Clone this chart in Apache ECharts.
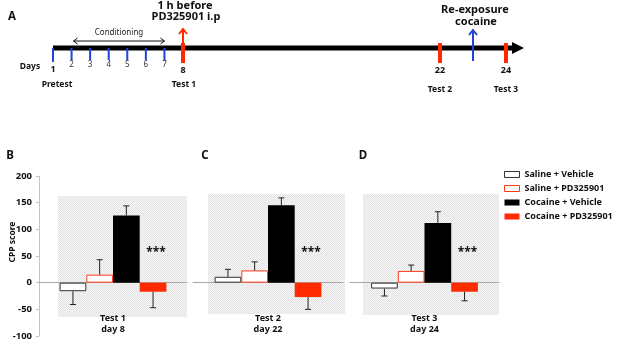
<!DOCTYPE html>
<html>
<head>
<meta charset="utf-8">
<script src="https://cdn.jsdelivr.net/npm/echarts@6/dist/echarts.min.js"></script>
<style>
  html, body { margin: 0; padding: 0; background: #fff; }
  #main { width: 617px; height: 353px; }
</style>
</head>
<body>
<div id="main"></div>
<script>
// ---- data ----
const groups = ['Saline + Vehicle', 'Saline + PD325901', 'Cocaine + Vehicle', 'Cocaine + PD325901']
const tests = ['Test 1\nday 8', 'Test 2\nday 22', 'Test 3\nday 24']
// CPP score means, one row per test (B, C, D)
const means = [
  [-16, 15, 126, -17],
  [11, 23, 145, -27],
  [-11, 22, 112, -17],
]
const sems = [
  [25, 28, 18, 30],
  [14, 16, 14, 23],
  [14, 11, 21, 17],
]
const stars = ['***', '***', '***']
const yMin = -100
const yMax = 200
const yStep = 50

// timeline (panel A)
const condDays = [1, 2, 3, 4, 5, 6, 7]
const condSpan = [2, 7]
const testDays = [8, 22, 24]
const testNames = ['Test 1', 'Test 2', 'Test 3']
const arrowDays = [8, 23]
const arrowTexts = ['1 h before\nPD325901 i.p', 'Re-exposure\ncocaine']

// ---- styles ----
const FONT = 'Noto Sans'
const RED = '#ff2a00'
const BLUE = '#2242d8'
const BAR_W = 26.7
const LINE_Y = 48
const STAR_AT = 57

const barStyles = [
  { color: '#fff', borderColor: '#333', borderWidth: 1 },
  { color: '#fff', borderColor: '#ff3a1a', borderWidth: 1 },
  { color: '#000' },
  { color: RED },
]

const panelGrids = [
  { left: 39, top: 176, width: 148, height: 160 },
  { left: 193, top: 176, width: 150, height: 160 },
  { left: 350, top: 176, width: 149, height: 160 },
]
const timeGrids = [
  { left: 53, top: 43, width: 130, height: 10 }, // days 1-8
  { left: 440, top: 43, width: 66, height: 10 }, // days 22-24
]
const timeRanges = [[1, 8], [22, 24]]
const timeGrid = (d) => (d <= 8 ? 3 : 4)

function txt(text, x, y, size, bold, extra) {
  return {
    type: 'text', x, y,
    style: Object.assign({
      text, fontSize: size, fontWeight: bold ? 'bold' : 'normal', fontFamily: FONT,
      fill: '#111', align: 'center', verticalAlign: 'middle',
    }, extra || {}),
  }
}

// hatched background pattern
const pat = document.createElement('canvas')
pat.width = 2
pat.height = 2
const pctx = pat.getContext('2d')
pctx.fillStyle = '#f6f6f6'
pctx.fillRect(0, 0, 2, 2)
pctx.fillStyle = '#e3e3e3'
pctx.fillRect(0, 0, 1, 1)
pctx.fillRect(1, 1, 1, 1)

// ---- render helpers ----
function renderErr(params, api) {
  const m = api.value(1)
  const e = api.value(2)
  const gi = api.value(3)
  const base = api.coord([0, m])
  const tip = api.coord([0, m + (m < 0 ? -e : e)])
  const x = base[0] + (gi - 1.5) * BAR_W
  const children = [
    { type: 'line', shape: { x1: x, y1: base[1], x2: x, y2: tip[1] }, style: { stroke: '#222', lineWidth: 1 } },
    { type: 'line', shape: { x1: x - 3, y1: tip[1], x2: x + 3, y2: tip[1] }, style: { stroke: '#222', lineWidth: 1 } },
  ]
  if (gi === 3) {
    const s = api.coord([0, STAR_AT])
    children.push(txt(stars[params.seriesIndex % 3] || '***', x + 3, s[1], 12, true))
  }
  return { type: 'group', children }
}

function renderCondTick(params, api) {
  const d = api.value(0)
  const x = api.coord([d, 0])[0]
  const first = params.dataIndex === 0
  const children = [
    { type: 'line', shape: { x1: x, y1: LINE_Y, x2: x, y2: first ? 62 : 60 }, style: { stroke: BLUE, lineWidth: 2 } },
    txt(String(d), x, first ? 69 : 65, first ? 9 : 8, first, { fill: first ? '#111' : '#333' }),
  ]
  if (first) children.push(txt('Pretest', x + 4, 85, 8.5, true))
  return { type: 'group', children }
}

function renderCondSpan(params, api) {
  const x1 = api.coord([api.value(0), 0])[0] + 2
  const x2 = api.coord([api.value(2), 0])[0]
  const y = 41
  const st = { stroke: '#111', lineWidth: 1, fill: null }
  return {
    type: 'group',
    children: [
      { type: 'line', shape: { x1, y1: y, x2, y2: y }, style: st },
      { type: 'polyline', shape: { points: [[x1 + 4, y - 3], [x1, y], [x1 + 4, y + 3]] }, style: st },
      { type: 'polyline', shape: { points: [[x2 - 4, y - 3], [x2, y], [x2 - 4, y + 3]] }, style: st },
      txt('Conditioning', (x1 + x2) / 2, 33, 8, false, { fill: '#222' }),
    ],
  }
}

function renderTest(params, api) {
  const d = api.value(0)
  const i = api.value(2)
  const x = api.coord([d, 0])[0]
  return {
    type: 'group',
    children: [
      { type: 'rect', shape: { x: x - 2, y: 43, width: 4, height: 20 }, style: { fill: RED } },
      txt(String(d), x, 70, 9, true),
      txt(testNames[i], i === 0 ? x + 1 : x, i === 0 ? 85 : 90, 8.5, true),
    ],
  }
}

function renderArrow(params, api) {
  const d = api.value(0)
  const i = api.value(2)
  const x = api.coord([d, 0])[0]
  const color = i === 0 ? RED : BLUE
  const top = i === 0 ? 29 : 30
  const st = { stroke: color, lineWidth: 2, fill: null }
  const lines = arrowTexts[i].split('\n')
  const ty = i === 0 ? [6, 17] : [10, 22]
  return {
    type: 'group',
    children: [
      { type: 'line', shape: { x1: x, y1: 61, x2: x, y2: top }, style: st },
      { type: 'polyline', shape: { points: [[x - 4, top + 5], [x, top], [x + 4, top + 5]] }, style: st },
      txt(lines[0], x + 2, ty[0], 11, true),
      txt(lines[1], x + 3, ty[1], 11, true),
    ],
  }
}

// ---- build option ----
const grid = panelGrids.concat(timeGrids).map((g) => Object.assign({ outerBoundsMode: 'none', containLabel: false }, g))
const xAxis = []
const yAxis = []
panelGrids.forEach((g, p) => {
  xAxis.push({
    type: 'category', gridIndex: p, data: [tests[p]],
    axisLine: { onZero: true, lineStyle: { color: '#a8a8a8', width: 1 } },
    axisTick: { show: false },
    // labels sit just under the shaded box
    axisLabel: { margin: -23, fontSize: 9, fontWeight: 'bold', lineHeight: 11, color: '#111', fontFamily: FONT },
  })
  yAxis.push({
    type: 'value', gridIndex: p, min: yMin, max: yMax, interval: yStep,
    show: p === 0,
    splitLine: { show: false },
    axisLine: { show: true, lineStyle: { color: '#c4c4c4' } },
    axisTick: { show: true, length: 3, lineStyle: { color: '#c4c4c4' } },
    axisLabel: { fontSize: 9.5, fontWeight: 'bold', color: '#111', margin: 7, fontFamily: FONT },
  })
})
timeRanges.forEach((r, k) => {
  xAxis.push({ type: 'value', gridIndex: 3 + k, min: r[0], max: r[1], show: false })
  yAxis.push({ type: 'value', gridIndex: 3 + k, min: 0, max: 1, show: false })
})

const series = []
panelGrids.forEach((g, p) => {
  groups.forEach((name, gi) => {
    series.push({
      type: 'bar', name, xAxisIndex: p, yAxisIndex: p,
      barWidth: BAR_W, barGap: '0%',
      itemStyle: barStyles[gi],
      data: [means[p][gi]],
      z: 3,
    })
  })
})
panelGrids.forEach((g, p) => {
  series.push({
    type: 'custom', xAxisIndex: p, yAxisIndex: p, z: 4,
    renderItem: renderErr,
    data: groups.map((name, gi) => [0, means[p][gi], sems[p][gi], gi]),
  })
})
series.push({
  type: 'custom', xAxisIndex: 3, yAxisIndex: 3, z: 3,
  renderItem: renderCondTick,
  data: condDays.map((d) => [d, 0]),
})
series.push({
  type: 'custom', xAxisIndex: 3, yAxisIndex: 3, z: 3,
  renderItem: renderCondSpan,
  data: [[condSpan[0], 0, condSpan[1]]],
})
;[3, 4].forEach((gIdx) => {
  series.push({
    type: 'custom', xAxisIndex: gIdx, yAxisIndex: gIdx, z: 3,
    renderItem: renderArrow,
    data: arrowDays.map((d, i) => [d, 0, i]).filter((v) => timeGrid(v[0]) === gIdx),
  })
  series.push({
    type: 'custom', xAxisIndex: gIdx, yAxisIndex: gIdx, z: 5,
    renderItem: renderTest,
    data: testDays.map((d, i) => [d, 0, i]).filter((v) => timeGrid(v[0]) === gIdx),
  })
})

const shade = [
  [58, 196, 129, 121],
  [208, 194, 137, 120],
  [363, 194, 136, 121],
]

const option = {
  animation: false,
  backgroundColor: '#fff',
  textStyle: { fontFamily: FONT },
  grid,
  xAxis,
  yAxis,
  legend: {
    orient: 'vertical', left: 504, top: 169, padding: 0,
    itemWidth: 15, itemHeight: 6, itemGap: 3, icon: 'rect', selectedMode: false,
    textStyle: { fontSize: 9, fontWeight: 'bold', lineHeight: 11, color: '#111', fontFamily: FONT },
    data: groups.map((name, gi) => ({ name, itemStyle: barStyles[gi] })),
  },
  graphic: [
    ...shade.map((s) => ({
      type: 'rect', z: -1, silent: true,
      shape: { x: s[0], y: s[1], width: s[2], height: s[3] },
      style: { fill: { image: pat, repeat: 'repeat' } },
    })),
    { type: 'line', z: 1, shape: { x1: 53, y1: LINE_Y, x2: 514, y2: LINE_Y }, style: { stroke: '#000', lineWidth: 5 } },
    { type: 'polygon', z: 1, shape: { points: [[512, 42], [524, LINE_Y], [512, 54]] }, style: { fill: '#000' } },
    txt('Days', 30, 67, 8.5, true),
    txt('A', 12, 17, 11.5, true),
    txt('B', 10, 156, 11.5, true),
    txt('C', 205, 156, 11.5, true),
    txt('D', 363, 156, 11.5, true),
    Object.assign(txt('CPP score', 13, 242, 8.5, true), { rotation: Math.PI / 2 }),
  ],
  series,
}

const myChart = echarts.init(document.getElementById('main'))
myChart.setOption(option)
window.addEventListener('resize', function () {
  myChart.resize()
})
</script>
</body>
</html>
